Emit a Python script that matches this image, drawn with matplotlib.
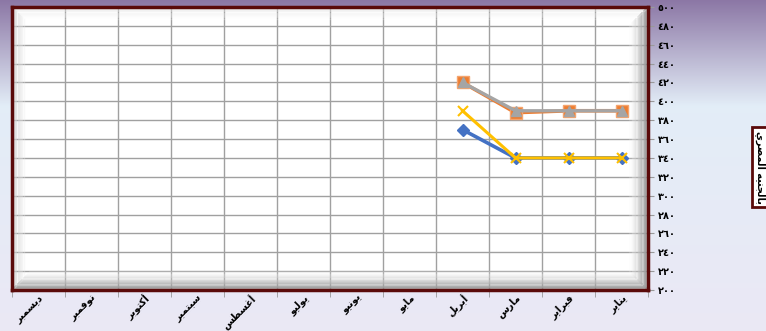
import numpy as np
import matplotlib.pyplot as plt
from matplotlib.lines import Line2D
from matplotlib.transforms import ScaledTranslation

# --- data -----------------------------------------------------------------
months = ["يناير", "فبراير", "مارس", "أبريل", "مايو", "يونيو",
          "يوليو", "أغسطس", "سبتمبر", "أكتوبر", "نوفمبر", "ديسمبر"]
blue_vals = [340, 340, 340, 370]
orange_vals = [390, 390, 388, 420]
gray_vals = [390, 390, 390, 420]
yellow_vals = [340, 340, 340, 390]
y_ticks = list(range(200, 501, 20))
side_title = "بالجنيه المصري"

# --- tiny arabic shaper (matplotlib has no bidi / shaping) -----------------
FORMS = {
    "ا": (0xFE8D, 0xFE8E, None, None), "أ": (0xFE83, 0xFE84, None, None),
    "ب": (0xFE8F, 0xFE90, 0xFE91, 0xFE92), "ت": (0xFE95, 0xFE96, 0xFE97, 0xFE98),
    "ج": (0xFE9D, 0xFE9E, 0xFE9F, 0xFEA0), "د": (0xFEA9, 0xFEAA, None, None),
    "ر": (0xFEAD, 0xFEAE, None, None), "س": (0xFEB1, 0xFEB2, 0xFEB3, 0xFEB4),
    "ص": (0xFEB9, 0xFEBA, 0xFEBB, 0xFEBC), "ط": (0xFEC1, 0xFEC2, 0xFEC3, 0xFEC4),
    "غ": (0xFECD, 0xFECE, 0xFECF, 0xFED0), "ف": (0xFED1, 0xFED2, 0xFED3, 0xFED4),
    "ك": (0xFED9, 0xFEDA, 0xFEDB, 0xFEDC), "ل": (0xFEDD, 0xFEDE, 0xFEDF, 0xFEE0),
    "م": (0xFEE1, 0xFEE2, 0xFEE3, 0xFEE4), "ن": (0xFEE5, 0xFEE6, 0xFEE7, 0xFEE8),
    "ه": (0xFEE9, 0xFEEA, 0xFEEB, 0xFEEC), "و": (0xFEED, 0xFEEE, None, None),
    "ي": (0xFEF1, 0xFEF2, 0xFEF3, 0xFEF4),
}


def shape(text):
    out = []
    for i, ch in enumerate(text):
        if ch not in FORMS:
            out.append(ch)
            continue
        prev = text[i - 1] if i > 0 else ""
        nxt = text[i + 1] if i + 1 < len(text) else ""
        iso, fin, ini, med = FORMS[ch]
        jp = prev in FORMS and FORMS[prev][2] is not None
        jn = nxt in FORMS and ini is not None
        f = med if (jp and jn) else fin if jp else ini if jn else iso
        out.append(chr(f))
    return "".join(reversed(out))


def indic(v):
    return "".join(chr(0x660 + int(d)) for d in str(v))


plt.rcParams["font.family"] = ["DejaVu Sans"]

fig = plt.figure(figsize=(7.66, 3.31), dpi=100)

# gradient background
bg = fig.add_axes([0, 0, 1, 1], zorder=-5)
t = np.linspace(0, 1, 200)
stops = [(0.0, (0.55, 0.47, 0.65)), (0.32, (0.89, 0.93, 0.97)), (1.0, (0.92, 0.91, 0.96))]
cols = np.zeros((200, 3))
for c in range(3):
    cols[:, c] = np.interp(t, [s[0] for s in stops], [s[1][c] for s in stops])
bg.imshow(cols[:, None, :], aspect="auto", extent=[0, 1, 0, 1])
bg.axis("off")

ax = fig.add_axes([12 / 766, 41 / 331, 636 / 766, 283 / 331])
ax.set_facecolor("white")

x = np.arange(len(blue_vals))
ax.plot(x, blue_vals, "-D", color="#4472C4", lw=2.6, ms=6, zorder=3)
ax.plot(x, orange_vals, "-s", color="#ED7D31", mec="#F4A46E", lw=2.6, ms=9, zorder=4)
ax.plot(x, gray_vals, "-^", color="#A5A5A5", lw=2.4, ms=7, zorder=5)
ax.plot(x, yellow_vals, "-x", color="#FFC000", lw=2.2, ms=7, mew=1.5, zorder=6)

ax.set_xlim(len(months) - 0.5, -0.5)
ax.set_ylim(200, 500)
ax.set_xticks(np.arange(len(months)))
ax.set_xticklabels([shape(m) for m in months], rotation=45, ha="right",
                   rotation_mode="anchor", fontsize=7, fontweight="bold")
shift = ScaledTranslation(4 / 100, 0, fig.dpi_scale_trans)
for lab in ax.get_xticklabels():
    lab.set_transform(lab.get_transform() + shift)
ax.set_xticks(np.arange(len(months) + 1) - 0.5, minor=True)
ax.tick_params(axis="x", which="major", length=0, pad=2)
ax.tick_params(axis="x", which="minor", length=5, color="#999999")
ax.yaxis.tick_right()
ax.set_yticks(y_ticks)
ax.set_yticklabels([indic(v) for v in y_ticks], fontsize=7, fontweight="bold")
ax.tick_params(axis="y", length=4, color="#999999", pad=3)
ax.grid(True, which="minor", axis="x", color="#a0a0a0", lw=1)
ax.grid(True, which="major", axis="y", color="#a0a0a0", lw=1)
ax.set_axisbelow(True)
for s in ax.spines.values():
    s.set_color("#5A0A0A")
    s.set_linewidth(2.5)

# bevel shading inside the plot frame
W, H = 636.0, 283.0
for i in range(14):
    d = 2 + i * 1.2
    dx, dy = d / W, d / H
    dark = 0.58 + i * 0.03
    light = 0.80 + i * 0.015
    a = 0.85 - i * 0.05
    ax.add_line(Line2D([dx, 1 - dx], [dy, dy], transform=ax.transAxes,
                       color=str(min(dark, 1)), lw=1.2, alpha=a, zorder=2))
    ax.add_line(Line2D([1 - dx, 1 - dx], [dy, 1 - dy], transform=ax.transAxes,
                       color=str(min(dark, 1)), lw=1.2, alpha=a, zorder=2))
    if i < 9:
        ax.add_line(Line2D([dx, dx], [dy, 1 - dy], transform=ax.transAxes,
                           color=str(min(light, 1)), lw=1.0, alpha=a * 0.7, zorder=2))
        ax.add_line(Line2D([dx, 1 - dx], [1 - dy, 1 - dy], transform=ax.transAxes,
                           color=str(min(light + 0.08, 1)), lw=1.0, alpha=a * 0.5, zorder=2))

# side title box (cut by the figure edge)
fig.text(755 / 766, 1 - 167 / 331, shape(side_title), rotation=270,
         ha="left", va="center", fontsize=7, fontweight="bold",
         bbox=dict(boxstyle="square,pad=0.35", fc="white", ec="#5A0A0A", lw=2))

fig.savefig("out.png", dpi=100)
